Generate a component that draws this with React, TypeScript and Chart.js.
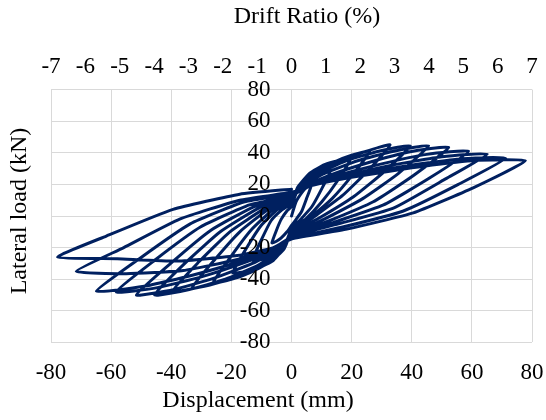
import React, { useEffect, useRef } from "react";
import { Chart, registerables } from "chart.js";

Chart.register(...registerables);

// Hysteresis loops: [displacement (mm), lateral load (kN)] per loading cycle
const cycle01: [number, number][] = [[0,0],[1.5,9],[3.5,15],[5,18],[6.5,19],[5,11],[3.4,3],[1.6,-2],[0,-6],[-1.5,-10],[-3.5,-14],[-5,-16],[-6.5,-17],[-5,-9],[-3.4,-2],[-1.6,3],[0,6]];
const cycle02: [number, number][] = [[1.5,14],[4,21],[7,25.5],[10,28],[13,29],[10,17],[6.8,6],[3.1,-2],[0,-8],[-1.5,-15],[-4,-21],[-7,-25],[-10,-27.5],[-13,-28],[-10,-15],[-6.8,-3],[-3.1,4],[0,8]];
const cycle03: [number, number][] = [[2,18],[6,27],[11,32.5],[15.5,35],[19.5,36],[15.2,22],[10.1,9],[4.7,-2],[0,-9],[-2,-19],[-6,-28],[-11,-33],[-15.5,-35.3],[-19.5,-36],[-15.2,-21],[-10.1,-6],[-4.7,4],[0,9]];
const cycle04: [number, number][] = [[2.5,19],[7,27],[14,34],[20,38.5],[26,41],[20.3,26],[13.5,11],[6.2,-1],[0,-10],[-2.5,-21],[-7,-29],[-14,-36],[-20,-40],[-26,-42],[-20.3,-26],[-13.5,-9],[-6.2,4],[0,10]];
const cycle05: [number, number][] = [[3,20],[8,27.5],[16,35],[24,40.5],[32.8,45],[25.6,29],[17,13],[7.9,0],[0,-11],[-3,-22],[-8,-30],[-16,-37.5],[-24,-42],[-33,-45.5],[-25.7,-28],[-17.2,-10],[-7.9,4],[0,11]];
const cycle06: [number, number][] = [[3.5,20],[10,28],[19,35.5],[29,41],[39.5,44.5],[30.8,28],[20.5,12],[9.5,-1],[0,-11],[-3.5,-22],[-10,-31],[-19,-39],[-29,-44.5],[-39.5,-47.5],[-30.8,-29],[-20.5,-10],[-9.5,4],[0,12]];
const cycle07: [number, number][] = [[4,20],[11,27],[22,35],[34,41],[45.6,44.5],[35.6,27],[23.7,11],[10.9,-2],[0,-12],[-4,-22],[-11,-31],[-22,-40],[-34,-46.5],[-45.5,-50],[-35.5,-30],[-23.7,-10],[-10.9,5],[0,12]];
const cycle08: [number, number][] = [[4.5,19],[13,26],[26,34],[39,40.5],[52.3,43.5],[40.8,26],[27.2,9],[12.6,-3],[0,-12],[-4.5,-21],[-13,-30],[-26,-39.5],[-39,-46.5],[-51.6,-50],[-40.2,-30],[-26.8,-9],[-12.4,6],[0,13]];
const cycle09: [number, number][] = [[5,19],[15,25.5],[30,33],[45,39],[58.9,41],[45.9,24],[30.6,7],[14.1,-4],[0,-13],[-5,-21],[-15,-29],[-30,-38.5],[-45,-45.5],[-58.3,-48],[-45.5,-28],[-30.3,-7],[-14,7],[0,13]];
const cycle10: [number, number][] = [[5.5,18.5],[16,24.5],[33,32],[50,37.5],[65.1,39.2],[50.8,23],[33.9,5],[15.6,-5],[0,-13],[-5.5,-20],[-16,-28],[-33,-37.5],[-49,-44.5],[-64.9,-47.6],[-50.6,-27],[-33.7,-5],[-15.6,9],[0,14]];
const cycle11: [number, number][] = [[6,19],[18,24.5],[36,31],[55,36],[71.2,36.6],[55.5,20],[37,3],[17,-7],[0,-14],[-6,-20],[-18,-27.5],[-36,-34.5],[-55,-36.5],[-71.6,-35],[-55.8,-20],[-37.2,-2],[-17.2,10],[0,15]];
const cycle12: [number, number][] = [[6,19],[20,24.5],[40,30.5],[60,35],[77.8,35],[60.6,18],[40.5,2],[18.4,-8.3],[0,-14.6],[-6,-20],[-18,-25],[-38,-28.5],[-58,-27],[-77.8,-26],[-61.6,-12.7],[-39.4,4.2],[-17.2,13.8],[0,17]];

const cycles = [cycle01, cycle02, cycle03, cycle04, cycle05, cycle06, cycle07, cycle08, cycle09, cycle10, cycle11, cycle12];

const dispTicks = [-80, -60, -40, -20, 0, 20, 40, 60, 80];
const loadTicks = [-80, -60, -40, -20, 0, 20, 40, 60, 80];
const driftTicks = [-7, -6, -5, -4, -3, -2, -1, 0, 1, 2, 3, 4, 5, 6, 7];

const xTitle = "Displacement (mm)";
const yTitle = "Lateral load (kN)";
const topTitle = "Drift Ratio (%)";

const FONT = '"Liberation Serif", "Times New Roman", serif';
const LINE_COLOR = "#002060";
const GRID_COLOR = "#d9d9d9";

const titlesPlugin = {
  id: "titles",
  afterDraw(chart: any) {
    const ctx = chart.ctx;
    ctx.save();
    ctx.fillStyle = "#000";
    ctx.font = `24px ${FONT}`;
    ctx.textAlign = "center";
    ctx.textBaseline = "middle";
    ctx.fillText(topTitle, 307, 17);
    ctx.fillText(xTitle, 258, 401);
    ctx.translate(20, 211);
    ctx.rotate(-Math.PI / 2);
    ctx.fillText(yTitle, 0, 0);
    ctx.restore();
  },
};

const zeroSidePadding = (scale: any) => {
  scale.paddingLeft = 0;
  scale.paddingRight = 0;
};
const zeroEndPadding = (scale: any) => {
  scale.paddingTop = 0;
  scale.paddingBottom = 0;
};

export default function App() {
  const ref = useRef<HTMLCanvasElement>(null);

  useEffect(() => {
    if (!ref.current) return;
    const points = cycles.flat().map(([x, y]) => ({ x, y }));
    const chart = new Chart(ref.current, {
      type: "scatter",
      data: {
        datasets: [
          {
            data: points,
            showLine: true,
            borderColor: LINE_COLOR,
            backgroundColor: LINE_COLOR,
            borderWidth: 3,
            pointRadius: 0,
            tension: 0.15,
            borderJoinStyle: "round",
            borderCapStyle: "round",
          } as any,
        ],
      },
      options: {
        responsive: false,
        animation: false,
        devicePixelRatio: 1,
        layout: { padding: { left: 51, right: 14, top: 44, bottom: 16 } },
        plugins: { legend: { display: false }, tooltip: { enabled: false } },
        scales: {
          x: {
            type: "linear",
            position: "bottom",
            min: -80,
            max: 80,
            afterBuildTicks: (axis: any) => {
              axis.ticks = dispTicks.map((v) => ({ value: v }));
            },
            afterFit: zeroSidePadding,
            grid: { color: GRID_COLOR, lineWidth: 1, drawTicks: false },
            border: { display: false },
            ticks: {
              color: "#000",
              font: { family: FONT, size: 23 },
              padding: 17,
              maxRotation: 0,
              autoSkip: false,
            },
          },
          x2: {
            type: "linear",
            position: "top",
            min: -7,
            max: 7,
            afterBuildTicks: (axis: any) => {
              axis.ticks = driftTicks.map((v) => ({ value: v }));
            },
            afterFit: zeroSidePadding,
            grid: { display: false, drawTicks: false },
            border: { display: false },
            ticks: {
              color: "#000",
              font: { family: FONT, size: 23 },
              padding: 9,
              maxRotation: 0,
              autoSkip: false,
            },
          },
          y: {
            type: "linear",
            position: { x: -7 } as any,
            min: -80,
            max: 80,
            afterBuildTicks: (axis: any) => {
              axis.ticks = loadTicks.map((v) => ({ value: v }));
            },
            afterFit: (scale: any) => {
              zeroSidePadding(scale);
              zeroEndPadding(scale);
            },
            grid: { color: GRID_COLOR, lineWidth: 1, drawTicks: false },
            border: { display: false },
            ticks: {
              color: "#000",
              font: { family: FONT, size: 23 },
              autoSkip: false,
              z: 1,
            } as any,
          },
        },
      },
      plugins: [titlesPlugin],
    });
    return () => chart.destroy();
  }, []);

  return (
    <div style={{ position: "absolute", left: 0, top: 0, width: 546, height: 420, background: "#fff" }}>
      <canvas ref={ref} width={546} height={420} style={{ display: "block" }} />
    </div>
  );
}
